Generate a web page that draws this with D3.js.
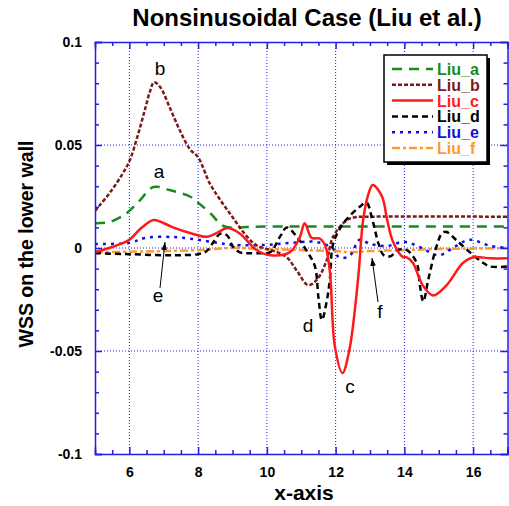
<!DOCTYPE html>
<html><head><meta charset="utf-8">
<script src="https://cdn.jsdelivr.net/npm/d3@7"></script>
<style>
body{margin:0;background:#fff;}
text{font-family:"Liberation Sans",Arial,sans-serif;}
</style></head>
<body><svg id="c" width="509" height="506"></svg>
<script>
const xMajor = [6, 8, 10, 12, 14, 16];
const xTickLabels = ["6", "8", "10", "12", "14", "16"];
const yMajor = [-0.1, -0.05, 0, 0.05, 0.1];
const yTickLabels = ["-0.1", "-0.05", "0", "0.05", "0.1"];

const seriesNames = ["Liu_a", "Liu_b", "Liu_c", "Liu_d", "Liu_e", "Liu_f"];

const aX = [5, 5.4, 5.8, 6.0, 6.3, 6.7, 7.2, 7.76, 8.0, 8.35, 8.7, 9.0, 9.4, 10, 17];
const aY = [0.012, 0.0125, 0.0155, 0.018, 0.023, 0.0296, 0.028, 0.025, 0.022, 0.017, 0.011, 0.0098, 0.0102, 0.0104, 0.0104];

const bX = [5, 5.15, 5.44, 5.8, 6.02, 6.25, 6.45, 6.6, 6.72, 6.9, 7.18, 7.47, 7.76, 8.0, 8.35, 8.7, 9.0, 9.3, 9.6, 9.8, 10.3, 10.58, 10.87, 11.2, 11.45, 11.74, 11.92, 12.33, 12.6, 13.0, 17];
const bY = [0.018, 0.021, 0.027, 0.036, 0.043, 0.055, 0.067, 0.076, 0.0805, 0.078, 0.068, 0.057, 0.048, 0.044, 0.031, 0.022, 0.015, 0.008, 0.0025, 0.0005, -0.002, -0.0045, -0.011, -0.018, -0.0155, -0.006, 0.0053, 0.0136, 0.015, 0.0152, 0.0152];

const cX = [5, 5.5, 6.0, 6.3, 6.7, 7.0, 7.27, 7.76, 8.25, 8.6, 8.85, 9.2, 9.7, 10.1, 10.67, 10.96, 11.1, 11.3, 11.55, 11.7, 11.83, 11.98, 12.2, 12.4, 12.65, 12.8, 12.95, 13.08, 13.35, 13.5, 13.67, 13.95, 14.07, 14.25, 14.53, 14.83, 15.23, 15.7, 16.0, 16.5, 17];
const cY = [-0.002, 0.0005, 0.004, 0.009, 0.0136, 0.012, 0.010, 0.0073, 0.0055, 0.0078, 0.0097, 0.0072, -0.001, -0.0035, -0.002, 0.0053, 0.012, 0.005, 0.0045, 0.001, -0.011, -0.048, -0.0607, -0.0495, -0.0155, 0.0136, 0.026, 0.0306, 0.025, 0.0136, 0.003, -0.0043, -0.0045, -0.0073, -0.018, -0.023, -0.018, -0.0073, -0.0045, -0.005, -0.005];

const dX = [5, 6, 7, 7.5, 8.0, 8.25, 8.45, 8.65, 8.85, 9.0, 9.2, 9.4, 9.8, 10.1, 10.4, 10.58, 10.87, 11.2, 11.4, 11.5, 11.6, 11.75, 11.83, 11.92, 12.1, 12.3, 12.7, 12.9, 13.05, 13.14, 13.24, 13.4, 13.6, 13.8, 14.07, 14.36, 14.45, 14.55, 14.7, 14.93, 15.1, 15.23, 15.5, 15.9, 16.3, 16.5, 17];
const dY = [-0.0025, -0.003, -0.0035, -0.0035, -0.003, -0.0015, 0.003, 0.007, 0.006, 0.001, -0.002, -0.0025, -0.0025, -0.002, 0.006, 0.010, 0.0055, -0.0025, -0.009, -0.024, -0.035, -0.025, -0.0155, 0.0015, 0.0087, 0.0136, 0.020, 0.022, 0.015, 0.009, 0.0025, -0.0035, -0.004, -0.001, -0.001, -0.0073, -0.018, -0.026, -0.015, 0.0005, 0.0073, 0.0078, 0.004, -0.002, -0.0073, -0.009, -0.009];

const eX = [5, 6, 6.5, 7.3, 8, 8.6, 9, 10, 10.7, 11.4, 11.9, 12.1, 12.4, 12.7, 13.0, 13.5, 14.0, 14.5, 15.0, 15.5, 15.9, 16.5, 17];
const eY = [0.002, 0.0025, 0.005, 0.0053, 0.004, 0.0024, 0.0015, 0.0015, 0.0025, 0.003, 0.0, -0.0045, -0.004, 0.004, 0.002, 0.001, 0.003, 0.0, -0.0035, 0.001, 0.004, 0.001, 0.0];

const fX = [5, 6, 7, 8, 9, 10, 11, 12, 12.5, 13, 14, 15, 16, 17];
const fY = [-0.002, -0.0018, -0.0015, -0.001, 0.0, -0.0005, -0.001, -0.0015, -0.002, -0.0015, -0.001, -0.0005, -0.0003, 0.0];

const seriesX = [aX, bX, cX, dX, eX, fX];
const seriesY = [aY, bY, cY, dY, eY, fY];
const colors = ["#1a8a1a", "#7a1a1a", "#ff1a1a", "#000000", "#1010e0", "#ff9933"];
const dashes = ["10,7", "4,2", null, "6,4", "3,5", "8,3,3,3"];

const svg = d3.select("#c");
const L = 95, R = 507.5, T = 42, B = 454;
const x = d3.scaleLinear().domain([5, 17]).range([L, R]);
const y = d3.scaleLinear().domain([-0.1, 0.1]).range([B, T]);
const axisCol = "#1f1fe6";

// grid
const g = svg.append("g");
g.selectAll(".gx").data(xMajor).enter().append("line")
  .attr("x1", d => x(d)).attr("x2", d => x(d)).attr("y1", T).attr("y2", B)
  .attr("stroke", axisCol).attr("stroke-width", 1).attr("stroke-dasharray", "1,2");
g.selectAll(".gy").data([-0.05, 0, 0.05]).enter().append("line")
  .attr("y1", d => y(d)).attr("y2", d => y(d)).attr("x1", L).attr("x2", R)
  .attr("stroke", axisCol).attr("stroke-width", 1).attr("stroke-dasharray", "1,2");

// curves
svg.append("clipPath").attr("id", "clip").append("rect")
  .attr("x", L).attr("y", T).attr("width", R - L).attr("height", B - T);
const line = d3.line().x(d => x(d[0])).y(d => y(d[1])).curve(d3.curveCatmullRom.alpha(0.5));
const order = [5, 4, 0, 1, 3, 2];
order.forEach(i => {
  const pts = seriesX[i].map((v, k) => [v, seriesY[i][k]]);
  const p = svg.append("path").attr("d", line(pts)).attr("fill", "none")
    .attr("stroke", colors[i]).attr("stroke-width", 2.5).attr("clip-path", "url(#clip)");
  if (dashes[i]) p.attr("stroke-dasharray", dashes[i]);
});

// axes
function styleAxis(sel) {
  sel.selectAll("path, line").attr("stroke", axisCol).attr("stroke-width", 1.5);
  sel.selectAll("text").attr("fill", "#000").attr("font-size", 14).attr("font-weight", "bold")
    .attr("font-family", "Liberation Sans, Arial, sans-serif");
}
const xMinor = d3.range(5, 17.01, 0.5).filter(v => xMajor.indexOf(v) < 0);
const yMinor = d3.range(-10, 10.5, 1).map(v => v / 100).filter(v => Math.abs(v * 20 - Math.round(v * 20)) > 1e-6);

const bx = svg.append("g").attr("transform", `translate(0,${B})`)
  .call(d3.axisBottom(x).tickValues(xMajor).tickSize(-7).tickPadding(13)
    .tickFormat((d, i) => xTickLabels[i]));
styleAxis(bx);
svg.append("g").attr("transform", `translate(0,${B})`)
  .call(d3.axisBottom(x).tickValues(xMinor).tickSize(-4).tickFormat(""))
  .call(styleAxis).select(".domain").remove();
const tx = svg.append("g").attr("transform", `translate(0,${T})`)
  .call(d3.axisTop(x).tickValues(xMajor).tickSize(-7).tickFormat(""));
styleAxis(tx);
svg.append("g").attr("transform", `translate(0,${T})`)
  .call(d3.axisTop(x).tickValues(xMinor).tickSize(-4).tickFormat(""))
  .call(styleAxis).select(".domain").remove();

const ly = svg.append("g").attr("transform", `translate(${L},0)`)
  .call(d3.axisLeft(y).tickValues(yMajor).tickSize(-7).tickPadding(13)
    .tickFormat((d, i) => yTickLabels[i]));
styleAxis(ly);
svg.append("g").attr("transform", `translate(${L},0)`)
  .call(d3.axisLeft(y).tickValues(yMinor).tickSize(-4).tickFormat(""))
  .call(styleAxis).select(".domain").remove();
const ry = svg.append("g").attr("transform", `translate(${R},0)`)
  .call(d3.axisRight(y).tickValues(yMajor).tickSize(-7).tickFormat(""));
styleAxis(ry);
svg.append("g").attr("transform", `translate(${R},0)`)
  .call(d3.axisRight(y).tickValues(yMinor).tickSize(-4).tickFormat(""))
  .call(styleAxis).select(".domain").remove();

// titles
svg.append("text").attr("x", 307).attr("y", 26).attr("text-anchor", "middle")
  .attr("font-size", 24).attr("font-weight", "bold").text("Nonsinusoidal Case (Liu et al.)");
svg.append("text").attr("x", 304).attr("y", 500).attr("text-anchor", "middle")
  .attr("font-size", 21).attr("font-weight", "bold").text("x-axis");
svg.append("text").attr("transform", `translate(33,244) rotate(-90)`).attr("text-anchor", "middle")
  .attr("font-size", 19.5).attr("font-weight", "bold").text("WSS on the lower wall");

// annotation letters
const ann = [["b", 160, 75], ["a", 159, 178], ["c", 350, 393], ["d", 308, 332], ["e", 158, 302], ["f", 380, 318]];
ann.forEach(a => svg.append("text").attr("x", a[1]).attr("y", a[2]).attr("text-anchor", "middle")
  .attr("font-size", 19).text(a[0]));

// arrows
const defs = svg.append("defs");
defs.append("marker").attr("id", "ah").attr("viewBox", "0 0 10 10").attr("refX", 10).attr("refY", 5)
  .attr("markerWidth", 8).attr("markerHeight", 8).attr("orient", "auto")
  .append("path").attr("d", "M0,1.5 L10,5 L0,8.5 Z").attr("fill", "#000");
svg.append("line").attr("x1", 160).attr("y1", 288).attr("x2", 165).attr("y2", 242)
  .attr("stroke", "#000").attr("stroke-width", 1).attr("marker-end", "url(#ah)");
svg.append("line").attr("x1", 378).attr("y1", 302).attr("x2", 372).attr("y2", 258)
  .attr("stroke", "#000").attr("stroke-width", 1).attr("marker-end", "url(#ah)");

// legend
const lx = 384, lyy = 55, lw = 103, lh = 107;
svg.append("rect").attr("x", lx + 3).attr("y", lyy + 3).attr("width", lw).attr("height", lh).attr("fill", "#000");
svg.append("rect").attr("x", lx).attr("y", lyy).attr("width", lw).attr("height", lh)
  .attr("fill", "#fff").attr("stroke", "#000").attr("stroke-width", 1.5);
seriesNames.forEach((n, i) => {
  const by = 75 + i * 15.8;
  const ln = svg.append("line").attr("x1", 392).attr("x2", 433).attr("y1", by - 6).attr("y2", by - 6)
    .attr("stroke", colors[i]).attr("stroke-width", 2.5);
  if (dashes[i]) ln.attr("stroke-dasharray", dashes[i]);
  svg.append("text").attr("x", 437).attr("y", by).attr("font-size", 16).attr("font-weight", "bold")
    .attr("fill", colors[i]).text(n);
});
</script></body></html>
